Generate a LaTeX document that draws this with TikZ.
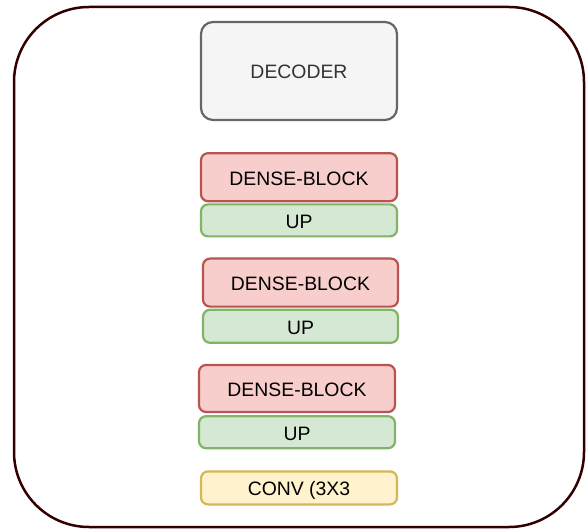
\documentclass[tikz,border=0pt]{standalone}
\usepackage{xcolor}
\usepackage{fontspec}
\setmainfont{Liberation Sans}
\usepackage{tikz}
\usetikzlibrary{positioning}

\definecolor{framecol}{HTML}{330000}
\definecolor{decfill}{HTML}{F5F5F5}
\definecolor{decline}{HTML}{666666}
\definecolor{dectext}{HTML}{333333}
\definecolor{densefill}{HTML}{F8CECC}
\definecolor{denseline}{HTML}{B85450}
\definecolor{upfill}{HTML}{D5E8D4}
\definecolor{upline}{HTML}{82B366}
\definecolor{convfill}{HTML}{FFF2CC}
\definecolor{convline}{HTML}{D6B656}

\begin{document}
\begin{tikzpicture}[
    x=1pt, y=1pt,
    node distance=20pt,
    block/.style={rectangle, rounded corners=7pt, draw, line width=2.2pt, minimum width=196pt, minimum height=48pt, align=center, text height=16pt, text depth=0pt, font=\fontsize{19.4}{22}\selectfont},
    dec/.style={block, rounded corners=12pt, draw=decline, fill=decfill, text=dectext, minimum height=98pt},
    dense/.style={block, draw=denseline, fill=densefill},
    up/.style={block, draw=upline, fill=upfill, minimum height=32pt},
    conv/.style={block, draw=convline, fill=convfill, minimum height=33pt}
]
    \useasboundingbox (0,0) rectangle (586,-529);

    % Outer frame
    \draw[framecol, line width=2.5pt, rounded corners=75pt] (14,-7) rectangle (584,-527);

    % Decoder
    \node[dec] (decoder) at (299,-71) {DECODER};

    % Dense blocks with up-sampling
    \node[dense, below=31pt of decoder] (dense1) {DENSE-BLOCK};
    \node[up, below=1pt of dense1] (up1) {UP};

    \node[dense, below=20pt of up1, xshift=1.5pt, minimum width=195pt] (dense2) {DENSE-BLOCK};
    \node[up, below=1pt of dense2, minimum width=195pt, minimum height=33pt] (up2) {UP};

    \node[dense, below=20pt of up2, xshift=-3.5pt, minimum height=47pt] (dense3) {DENSE-BLOCK};
    \node[up, below=2pt of dense3] (up3) {UP};

    % Last convolution
    \node[conv, below=21pt of up3, xshift=2pt] (conv) {CONV (3X3};
\end{tikzpicture}
\end{document}
